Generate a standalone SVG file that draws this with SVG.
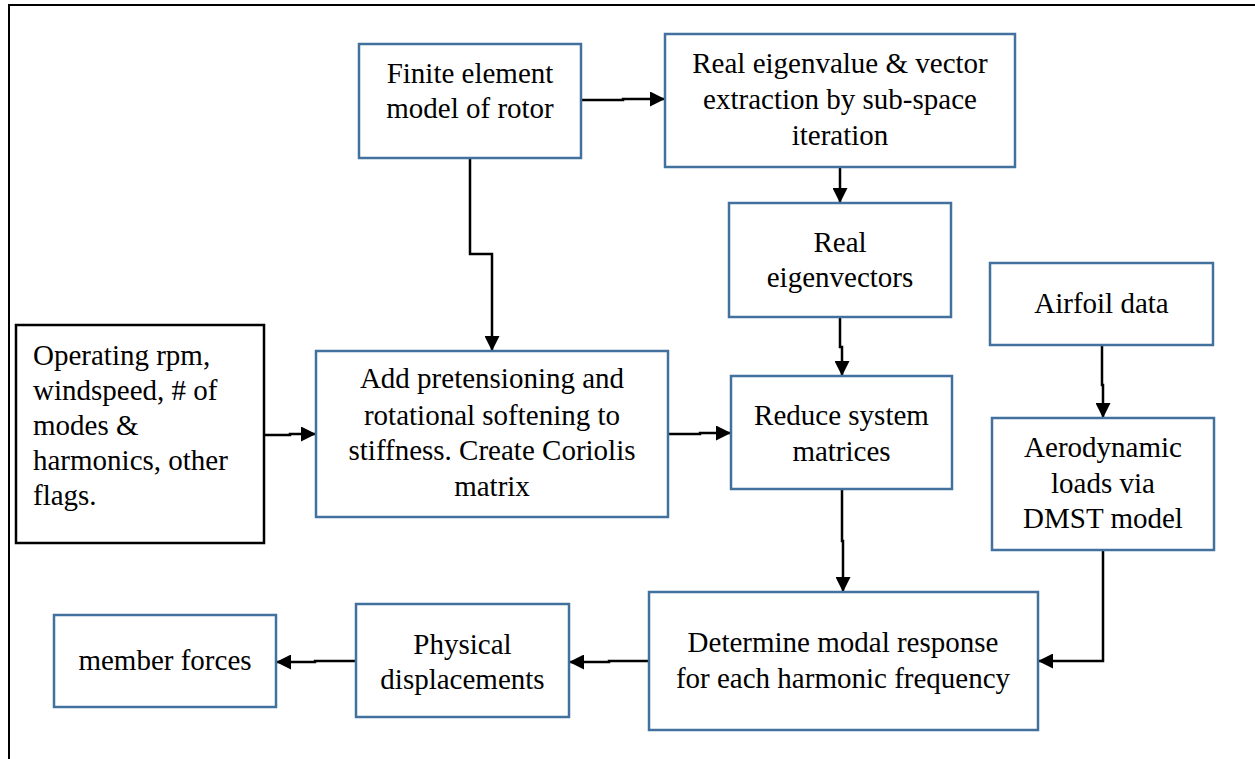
<svg xmlns="http://www.w3.org/2000/svg" width="1255" height="759" viewBox="0 0 1255 759">
<style>
.box{fill:#ffffff;stroke:#41719c;stroke-width:2.5}
.kbox{fill:#ffffff;stroke:#000000;stroke-width:2.5}
text{font-family:'Liberation Serif','Times New Roman',serif;font-size:29px;fill:#000000}
.t{text-anchor:middle}
.tl{text-anchor:start}
.c{fill:none;stroke:#000000;stroke-width:2.5}
</style>
<defs>
<marker id="ah" viewBox="0 0 15 15" refX="15" refY="7.5" markerWidth="15" markerHeight="15" markerUnits="userSpaceOnUse" orient="auto">
<path d="M0,0 L15,7.5 L0,15 z" fill="#000000"/>
</marker>
</defs>
<rect width="1255" height="759" fill="#ffffff"/>
<path d="M9,759 V5 H1255" fill="none" stroke="#000000" stroke-width="2"/>
<g id="connectors">
<path class="c" d="M581,100 H623 V99 H665" marker-end="url(#ah)"/>
<path class="c" d="M840,167 V203" marker-end="url(#ah)"/>
<path class="c" d="M470,158 V254 H492 V351" marker-end="url(#ah)"/>
<path class="c" d="M840,317 V347 H842 V376" marker-end="url(#ah)"/>
<path class="c" d="M264,435 H290 V434 H316" marker-end="url(#ah)"/>
<path class="c" d="M668,434 H700 V433 H731" marker-end="url(#ah)"/>
<path class="c" d="M1102,345 V385 H1103 V418" marker-end="url(#ah)"/>
<path class="c" d="M842,489 V541 H843 V592" marker-end="url(#ah)"/>
<path class="c" d="M1103,550 V661 H1038" marker-end="url(#ah)"/>
<path class="c" d="M649,661 H609 V662 H569" marker-end="url(#ah)"/>
<path class="c" d="M356,661 H315 V662 H276" marker-end="url(#ah)"/>
</g>
<g id="fe">
<rect class="box" x="359" y="44" width="222" height="114"/>
<text class="t" x="470" y="83">Finite element</text>
<text class="t" x="470" y="118">model of rotor</text>
</g>
<g id="eig">
<rect class="box" x="665" y="34" width="350" height="133"/>
<text class="t" x="840" y="73">Real eigenvalue &amp; vector</text>
<text class="t" x="840" y="109">extraction by sub-space</text>
<text class="t" x="840" y="145">iteration</text>
</g>
<g id="vec">
<rect class="box" x="729" y="203" width="222" height="114"/>
<text class="t" x="840" y="252">Real</text>
<text class="t" x="840" y="287">eigenvectors</text>
</g>
<g id="air">
<rect class="box" x="990" y="263" width="223" height="82"/>
<text class="t" x="1101.5" y="313">Airfoil data</text>
</g>
<g id="op">
<rect class="kbox" x="16" y="325" width="248" height="218"/>
<text class="tl" x="33" y="365">Operating rpm,</text>
<text class="tl" x="33" y="400">windspeed, # of</text>
<text class="tl" x="33" y="435">modes &amp;</text>
<text class="tl" x="33" y="470">harmonics, other</text>
<text class="tl" x="33" y="505">flags.</text>
</g>
<g id="add">
<rect class="box" x="316" y="351" width="352" height="166"/>
<text class="t" x="492" y="388">Add pretensioning and</text>
<text class="t" x="492" y="425">rotational softening to</text>
<text class="t" x="492" y="460">stiffness. Create Coriolis</text>
<text class="t" x="492" y="496">matrix</text>
</g>
<g id="red">
<rect class="box" x="731" y="376" width="221" height="113"/>
<text class="t" x="841.5" y="425">Reduce system</text>
<text class="t" x="841.5" y="461">matrices</text>
</g>
<g id="aero">
<rect class="box" x="992" y="418" width="222" height="132"/>
<text class="t" x="1103" y="457">Aerodynamic</text>
<text class="t" x="1103" y="493">loads via</text>
<text class="t" x="1103" y="528">DMST model</text>
</g>
<g id="det">
<rect class="box" x="649" y="592" width="389" height="138"/>
<text class="t" x="843" y="652">Determine modal response</text>
<text class="t" x="843" y="688">for each harmonic frequency</text>
</g>
<g id="phys">
<rect class="box" x="356" y="604" width="213" height="113"/>
<text class="t" x="462.5" y="654">Physical</text>
<text class="t" x="462.5" y="689">displacements</text>
</g>
<g id="mem">
<rect class="box" x="54" y="615" width="222" height="92"/>
<text class="t" x="165" y="670">member forces</text>
</g>
</svg>
